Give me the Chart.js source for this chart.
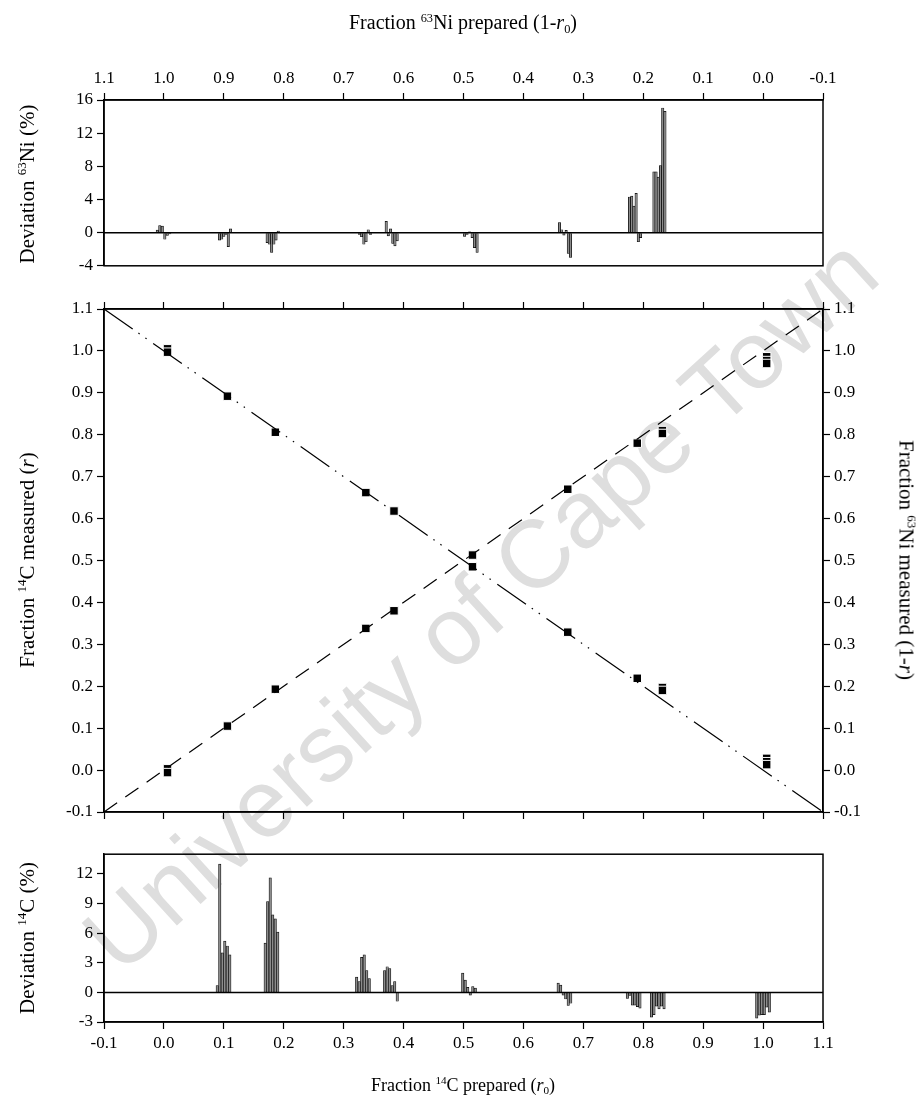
<!DOCTYPE html>
<html>
<head>
<meta charset="utf-8">
<script src="https://cdn.jsdelivr.net/npm/chart.js@4.4.1/dist/chart.umd.min.js"></script>
<style>
  html, body { margin: 0; padding: 0; background: #fff; }
  #page { position: relative; width: 920px; height: 1113px; overflow: hidden;
          font-family: "Liberation Serif", "Times New Roman", serif; color: #000; }
  .panel { position: absolute; left: 0; width: 920px; }
  .title { position: absolute; font-size: 18px; white-space: nowrap; transform: translate(-50%, -50%); }
  .rotL { font-size: 21px; transform: translate(-50%, -50%) rotate(-90deg); }
  .rotR { font-size: 21px; transform: translate(-50%, -50%) rotate(90deg); }
  sup, sub { font-size: 0.62em; line-height: 0; position: relative; vertical-align: baseline; }
  sup { top: -0.6em; }
  sub { top: 0.3em; }
  #mark { position: absolute; left: 480px; top: 604px; transform: translate(-50%, -50%) rotate(-42.4deg);
          font-family: "Liberation Sans", Arial, sans-serif; font-size: 96px; color: #dedede; white-space: nowrap; }
</style>
</head>
<body>
<div id="page">
  <div id="mark">University of Cape Town</div>
  <div class="panel" style="top:0;height:280px"><canvas id="topChart" width="920" height="280"></canvas></div>
  <div class="panel" style="top:280px;height:560px"><canvas id="mainChart" width="920" height="560"></canvas></div>
  <div class="panel" style="top:840px;height:273px"><canvas id="botChart" width="920" height="273"></canvas></div>

  <div class="title" style="left:463px;top:22px;font-size:20px">Fraction <sup>63</sup>Ni prepared (1-<i>r</i><sub>0</sub>)</div>
  <div class="title" style="left:463px;top:1085px">Fraction <sup>14</sup>C prepared (<i>r</i><sub>0</sub>)</div>
  <div class="title rotL" style="left:27px;top:184px">Deviation <sup>63</sup>Ni (%)</div>
  <div class="title rotL" style="left:27px;top:560px">Fraction <sup>14</sup>C measured (<i>r</i>)</div>
  <div class="title rotR" style="left:906px;top:560px">Fraction <sup>63</sup>Ni measured (1-<i>r</i>)</div>
  <div class="title rotL" style="left:27px;top:938px">Deviation <sup>14</sup>C (%)</div>
</div>

<script>
// Tick labels
const fracTicks = [-0.1, 0.0, 0.1, 0.2, 0.3, 0.4, 0.5, 0.6, 0.7, 0.8, 0.9, 1.0, 1.1];
const niDevTicks = [-4, 0, 4, 8, 12, 16];
const cDevTicks = [-3, 0, 3, 6, 9, 12];

// 63Ni deviation bars (top panel), x in 1-r0
const niPrepared = [
  1.011, 1.0069, 1.0027, 0.9985, 0.9944, 0.9902,
  0.9073, 0.9036, 0.9000, 0.8963, 0.8926, 0.8888,
  0.8277, 0.8240, 0.8202, 0.8165, 0.8129, 0.8092,
  0.6736, 0.6700, 0.6663, 0.6626, 0.6590, 0.6553,
  0.6290, 0.6255, 0.6217, 0.6180, 0.6144, 0.6107,
  0.4982, 0.4940, 0.4898, 0.4856, 0.4815, 0.4773,
  0.3398, 0.3361, 0.3324, 0.3287, 0.3250, 0.3214,
  0.2229, 0.2192, 0.2155, 0.2119, 0.2082, 0.2045,
  0.1822, 0.1786, 0.1749, 0.1712, 0.1675, 0.1638
];
const niDeviation = [
  0.3, 0.85, 0.8, -0.8, -0.35, -0.15,
  -0.9, -0.8, -0.45, -0.2, -1.7, 0.45,
  -1.2, -1.4, -2.4, -1.4, -0.9, 0.2,
  -0.2, -0.5, -1.4, -1.1, 0.35, -0.2,
  1.35, -0.4, 0.45, -1.3, -1.6, -1.0,
  -0.45, -0.2, 0.1, -0.6, -1.8, -2.4,
  1.2, 0.35, -0.3, 0.28, -2.5, -3.0,
  4.3, 4.4, 3.2, 4.75, -1.1, -0.6,
  7.34, 7.34, 6.7, 8.1, 15.04, 14.64
];

// 14C deviation bars (bottom panel), x in r0
const cPrepared = [
  0.0890, 0.0932, 0.0974, 0.1016, 0.1058, 0.1100,
  0.1690, 0.1732, 0.1774, 0.1816, 0.1858, 0.1900,
  0.3217, 0.3259, 0.3301, 0.3343, 0.3385, 0.3427,
  0.3684, 0.3726, 0.3768, 0.3810, 0.3852, 0.3894,
  0.4987, 0.5029, 0.5071, 0.5113, 0.5155, 0.5197,
  0.6580, 0.6622, 0.6664, 0.6706, 0.6748, 0.6790,
  0.7735, 0.7777, 0.7819, 0.7861, 0.7903, 0.7945,
  0.8137, 0.8179, 0.8221, 0.8263, 0.8305, 0.8347,
  0.9894, 0.9936, 0.9978, 1.0020, 1.0062, 1.0104
];
const cDeviation = [
  0.7, 13.0, 4.0, 5.2, 4.7, 3.8,
  5.0, 9.2, 11.6, 7.85, 7.45, 6.1,
  1.55, 1.1, 3.55, 3.8, 2.2, 1.4,
  2.2, 2.6, 2.4, 0.7, 1.1, -0.9,
  1.95, 1.25, 0.5, -0.27, 0.6, 0.44,
  0.94, 0.74, -0.27, -0.67, -1.31, -1.1,
  -0.6, -0.3, -1.3, -1.3, -1.45, -1.6,
  -2.5, -2.25, -1.4, -1.68, -1.4, -1.68,
  -2.6, -2.3, -2.25, -2.25, -1.5, -2.0
];

// Measured fractions (middle panel)
const r0Prepared = [0.006, 0.006, 0.106, 0.186, 0.337, 0.384, 0.515, 0.674, 0.790, 0.832, 0.832, 1.006, 1.006, 1.006];
const cMeasured  = [0.003, -0.006, 0.105, 0.193, 0.338, 0.380, 0.513, 0.670, 0.780, 0.810, 0.803, 0.986, 0.977, 0.970];
const niMeasured = [1.005, 0.997, 0.892, 0.806, 0.662, 0.618, 0.485, 0.329, 0.219, 0.197, 0.190, 0.028, 0.020, 0.013];
const axisRange = [-0.1, 1.1];

Chart.defaults.font.family = "'Liberation Serif', 'Times New Roman', serif";
Chart.defaults.font.size = 17;
Chart.defaults.color = '#000';
Chart.defaults.animation = false;
Chart.defaults.plugins.legend.display = false;
Chart.defaults.plugins.tooltip.enabled = false;

// Force an axis box to a fixed size so the plot areas line up
function fixSize(size) {
  return function (scale) {
    if (scale.isHorizontal()) scale.height = size;
    else scale.width = size;
  };
}
function useTicks(list) {
  return function (scale) {
    scale.ticks = list.map(v => ({ value: v }));
  };
}
const grid = { drawOnChartArea: false, tickLength: 7, tickColor: '#000', tickWidth: 1.2, offset: false };
const border = { color: '#000', width: 1.5 };
const frac = v => Number(v).toFixed(1);

// Box around each plot, plus zero line for deviation panels
const framePlugin = {
  id: 'frame',
  afterDatasetsDraw(chart, args, opts) {
    const a = chart.chartArea, ctx = chart.ctx;
    ctx.save();
    ctx.strokeStyle = '#000';
    ctx.lineWidth = 1.5;
    ctx.strokeRect(a.left, a.top, a.right - a.left, a.bottom - a.top);
    if (opts.zero) {
      const y = chart.scales.y.getPixelForValue(0);
      ctx.beginPath();
      ctx.moveTo(a.left, y);
      ctx.lineTo(a.right, y);
      ctx.stroke();
    }
    ctx.restore();
  }
};

function barSet(xs, ys) {
  return {
    data: xs.map((x, i) => ({ x: x, y: ys[i] })),
    backgroundColor: '#8c8c8c',
    borderColor: '#000',
    borderWidth: 0.7,
    barThickness: 2.4
  };
}

// Top: 63Ni deviation
new Chart(document.getElementById('topChart'), {
  type: 'bar',
  data: { datasets: [barSet(niPrepared, niDeviation)] },
  options: {
    responsive: false,
    layout: { padding: { left: 0, right: 97, top: 0, bottom: 12 } },
    scales: {
      x: { type: 'linear', position: 'top', reverse: true, min: -0.1, max: 1.1, offset: false,
           grid: grid, border: border, afterBuildTicks: useTicks(fracTicks), afterFit: fixSize(100),
           ticks: { callback: frac, padding: 4, maxRotation: 0 } },
      y: { type: 'linear', min: -4, max: 16, grid: grid, border: border,
           afterBuildTicks: useTicks(niDevTicks), afterFit: fixSize(104), ticks: { padding: 4 } }
    },
    plugins: { frame: { zero: true } }
  },
  plugins: [framePlugin]
});

// Middle: measured vs prepared
function pointSet(ys, axis) {
  return {
    data: r0Prepared.map((x, i) => ({ x: x, y: ys[i] })),
    yAxisID: axis,
    pointStyle: 'rect',
    pointRadius: 6,
    backgroundColor: '#000',
    borderColor: '#fff',
    borderWidth: 1
  };
}
new Chart(document.getElementById('mainChart'), {
  type: 'scatter',
  data: {
    datasets: [
      { data: [{ x: axisRange[0], y: axisRange[0] }, { x: axisRange[1], y: axisRange[1] }],
        showLine: true, borderColor: '#000', borderWidth: 1.2, borderDash: [16, 10], pointRadius: 0, yAxisID: 'y' },
      { data: [{ x: axisRange[0], y: axisRange[1] }, { x: axisRange[1], y: axisRange[0] }],
        showLine: true, borderColor: '#000', borderWidth: 1.2, borderDash: [35, 7, 1.5, 7, 1.5, 8], pointRadius: 0, yAxisID: 'y2' },
      pointSet(cMeasured, 'y'),
      pointSet(niMeasured, 'y2')
    ]
  },
  options: {
    responsive: false,
    layout: { padding: 0 },
    scales: {
      x: { type: 'linear', position: 'bottom', min: -0.1, max: 1.1, grid: grid, border: border,
           afterBuildTicks: useTicks(fracTicks), afterFit: fixSize(28), ticks: { display: false } },
      x2: { type: 'linear', position: 'top', min: -0.1, max: 1.1, grid: grid, border: border,
            afterBuildTicks: useTicks(fracTicks), afterFit: fixSize(29), ticks: { display: false } },
      y: { type: 'linear', position: 'left', min: -0.1, max: 1.1, grid: grid, border: border,
           afterBuildTicks: useTicks(fracTicks), afterFit: fixSize(104), ticks: { callback: frac, padding: 4 } },
      y2: { type: 'linear', position: 'right', min: -0.1, max: 1.1, grid: grid, border: border,
            afterBuildTicks: useTicks(fracTicks), afterFit: fixSize(97), ticks: { callback: frac, padding: 4 } }
    },
    plugins: { frame: { zero: false } }
  },
  plugins: [framePlugin]
});

// Bottom: 14C deviation
new Chart(document.getElementById('botChart'), {
  type: 'bar',
  data: { datasets: [barSet(cPrepared, cDeviation)] },
  options: {
    responsive: false,
    layout: { padding: { left: 0, right: 97, top: 13, bottom: 0 } },
    scales: {
      x: { type: 'linear', position: 'bottom', min: -0.1, max: 1.1, offset: false,
           grid: grid, border: border, afterBuildTicks: useTicks(fracTicks), afterFit: fixSize(91),
           ticks: { callback: frac, padding: 4, maxRotation: 0 } },
      y: { type: 'linear', min: -3, max: 14, grid: grid, border: border,
           afterBuildTicks: useTicks(cDevTicks), afterFit: fixSize(104), ticks: { padding: 4 } }
    },
    plugins: { frame: { zero: true } }
  },
  plugins: [framePlugin]
});
</script>
</body>
</html>
